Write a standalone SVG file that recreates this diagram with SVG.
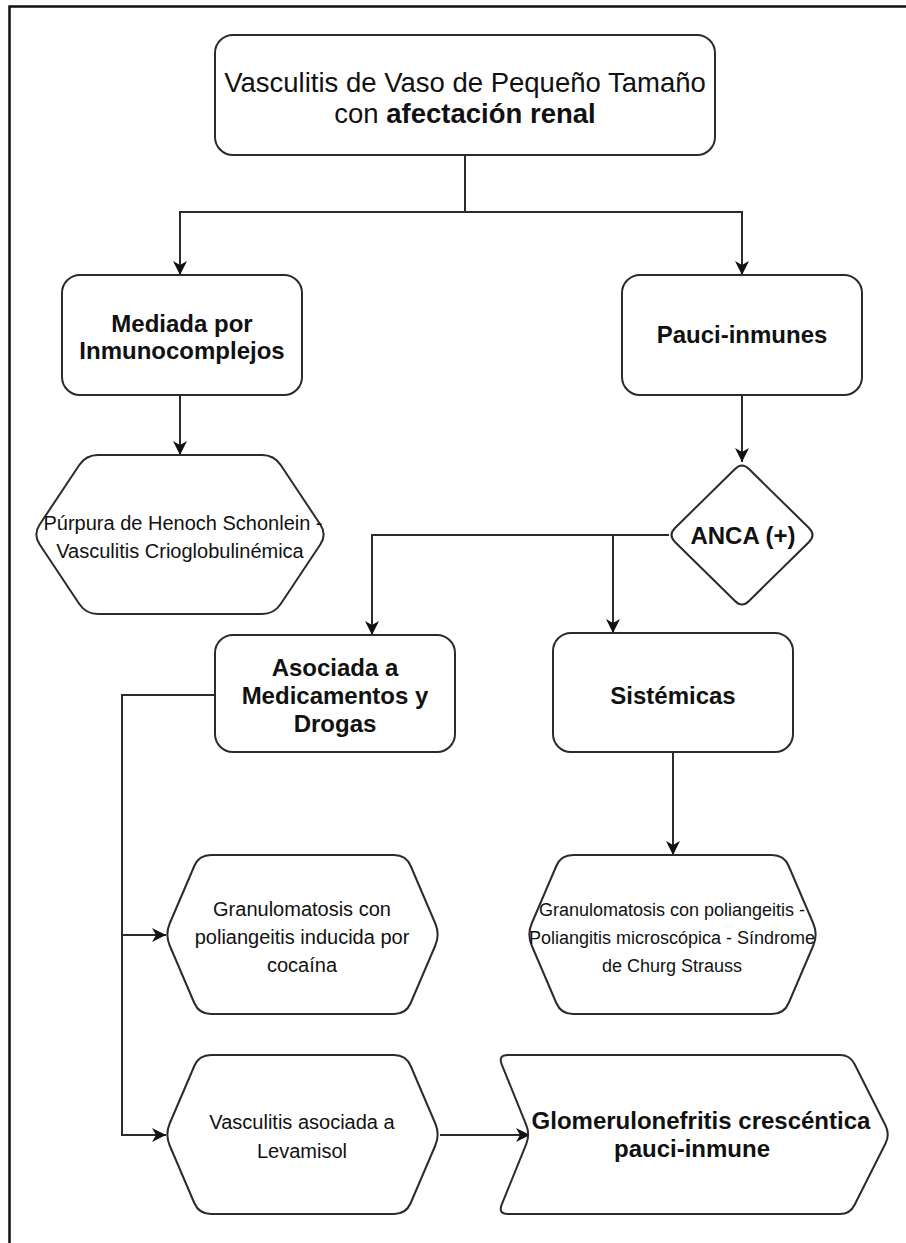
<svg xmlns="http://www.w3.org/2000/svg" width="906" height="1243" viewBox="0 0 906 1243">
<style>
.shape{fill:#ffffff;stroke:#2b2b2b;stroke-width:2}
.edge{fill:none;stroke:#2b2b2b;stroke-width:2}
text{font-family:"Liberation Sans",Arial,Helvetica,sans-serif;fill:#111111;text-anchor:middle}
.t{font-size:27.5px}
.b{font-size:24px;font-weight:bold}
.s{font-size:20px}
.xs{font-size:18px}
</style>
<defs>
<marker id="arr" markerUnits="userSpaceOnUse" markerWidth="16" markerHeight="14" refX="14" refY="7" orient="auto">
<path d="M0,0 L14,7 L0,14 L4,7 Z" fill="#111111"/>
</marker>
</defs>
<rect width="906" height="1243" fill="#ffffff"/>
<g id="frame">
<path d="M9.5,1243 V6.5 H906" fill="none" stroke="#111111" stroke-width="2.5"/>
</g>
<g id="connectors">
<path class="edge" d="M465,155 V212 H180 V275" marker-end="url(#arr)"/>
<path class="edge" d="M465,212 H742 V275" marker-end="url(#arr)"/>
<path class="edge" d="M180,395 V455" marker-end="url(#arr)"/>
<path class="edge" d="M742,395 V462" marker-end="url(#arr)"/>
<path class="edge" d="M669,535 H372 V635" marker-end="url(#arr)"/>
<path class="edge" d="M613,535 V633" marker-end="url(#arr)"/>
<path class="edge" d="M673,752 V855" marker-end="url(#arr)"/>
<path class="edge" d="M215,695 H122 V1135 H166" marker-end="url(#arr)"/>
<path class="edge" d="M122,935 H166" marker-end="url(#arr)"/>
<path class="edge" d="M440,1135 H530" marker-end="url(#arr)"/>
</g>
<g id="n-main">
<rect class="shape" x="215" y="35" width="500" height="120" rx="18"/>
<text class="t" x="465" y="92">Vasculitis de Vaso de Pequeño Tamaño</text>
<text class="t" x="465" y="123">con <tspan font-weight="bold">afectación renal</tspan></text>
</g>
<g id="n-mediada">
<rect class="shape" x="62" y="275" width="240" height="120" rx="18"/>
<text class="b" x="182" y="332">Mediada por</text>
<text class="b" x="182" y="359">Inmunocomplejos</text>
</g>
<g id="n-pauci">
<rect class="shape" x="622" y="275" width="240" height="120" rx="18"/>
<text class="b" x="742" y="343">Pauci-inmunes</text>
</g>
<g id="n-purpura">
<path class="shape" d="M98,455 L262,455 Q274,455 280.7,465 L320.3,524.5 Q327,534.5 320.3,544.5 L280.7,604 Q274,614 262,614 L98,614 Q86,614 79.3,604 L39.7,544.5 Q33,534.5 39.7,524.5 L79.3,465 Q86,455 98,455 Z"/>
<text class="s" x="183" y="530">Púrpura de Henoch Schonlein -</text>
<text class="s" x="180" y="558">Vasculitis Crioglobulinémica</text>
</g>
<g id="n-anca">
<path class="shape" d="M735,469 Q742,462 749,469 L809,528 Q816,535 809,542 L749,601 Q742,608 735,601 L675,542 Q668,535 675,528 Z"/>
<text class="b" x="743" y="544">ANCA (+)</text>
</g>
<g id="n-asociada">
<rect class="shape" x="215" y="635" width="240" height="117" rx="18"/>
<text class="b" x="335" y="676">Asociada a</text>
<text class="b" x="335" y="704">Medicamentos y</text>
<text class="b" x="335" y="732">Drogas</text>
</g>
<g id="n-sistemicas">
<rect class="shape" x="553" y="633" width="240" height="119" rx="18"/>
<text class="b" x="673" y="704">Sistémicas</text>
</g>
<g id="n-cocaina">
<path class="shape" d="M211,855 L394,855 Q406,855 410.7,866 L435.3,923.5 Q440,934.5 435.3,945.5 L410.7,1003 Q406,1014 394,1014 L211,1014 Q199,1014 194.3,1003 L169.7,945.5 Q165,934.5 169.7,923.5 L194.3,866 Q199,855 211,855 Z"/>
<text class="s" x="302" y="916">Granulomatosis con</text>
<text class="s" x="302" y="944">poliangeitis inducida por</text>
<text class="s" x="302" y="972">cocaína</text>
</g>
<g id="n-sistemicas-list">
<path class="shape" d="M573,855 L772,855 Q784,855 788.7,866 L813.3,923.5 Q818,934.5 813.3,945.5 L788.7,1003 Q784,1014 772,1014 L573,1014 Q561,1014 556.3,1003 L531.7,945.5 Q527,934.5 531.7,923.5 L556.3,866 Q561,855 573,855 Z"/>
<text class="xs" x="672" y="916">Granulomatosis con poliangeitis -</text>
<text class="xs" x="672" y="944">Poliangitis microscópica - Síndrome</text>
<text class="xs" x="672" y="972">de Churg Strauss</text>
</g>
<g id="n-levamisol">
<path class="shape" d="M211,1055 L394,1055 Q406,1055 410.7,1066 L435.3,1123.5 Q440,1134.5 435.3,1145.5 L410.7,1203 Q406,1214 394,1214 L211,1214 Q199,1214 194.3,1203 L169.7,1145.5 Q165,1134.5 169.7,1123.5 L194.3,1066 Q199,1055 211,1055 Z"/>
<text class="s" x="302" y="1129">Vasculitis asociada a</text>
<text class="s" x="302" y="1158">Levamisol</text>
</g>
<g id="n-glomerulo">
<path class="shape" d="M508,1055 L840,1055 Q850,1055 854.5,1064 L885.5,1125.5 Q890,1134.5 885.5,1143.5 L854.5,1205 Q850,1214 840,1214 L508,1214 Q498,1214 501.7,1204.7 L526.3,1143.8 Q530,1134.5 526.3,1125.2 L501.7,1064.3 Q498,1055 508,1055 Z"/>
<text class="b" x="701" y="1129">Glomerulonefritis crescéntica</text>
<text class="b" x="692" y="1157">pauci-inmune</text>
</g>
</svg>
